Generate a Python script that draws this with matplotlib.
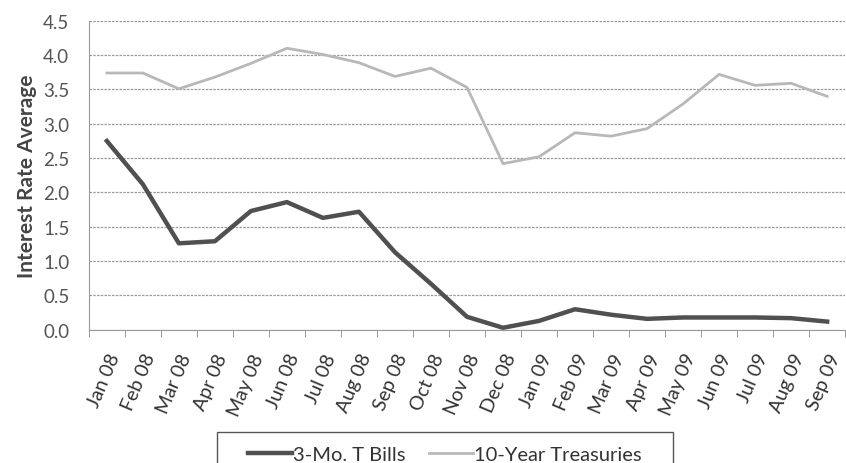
import matplotlib
matplotlib.use("Agg")
import matplotlib.pyplot as plt
from matplotlib.patches import Rectangle
import numpy as np

months = ["Jan 08", "Feb 08", "Mar 08", "Apr 08", "May 08", "Jun 08", "Jul 08",
          "Aug 08", "Sep 08", "Oct 08", "Nov 08", "Dec 08", "Jan 09", "Feb 09",
          "Mar 09", "Apr 09", "May 09", "Jun 09", "Jul 09", "Aug 09", "Sep 09"]
tbills = [2.75, 2.12, 1.26, 1.29, 1.73, 1.86, 1.63, 1.72, 1.13, 0.67, 0.19,
          0.03, 0.13, 0.30, 0.22, 0.16, 0.18, 0.18, 0.18, 0.17, 0.12]
treasuries = [3.74, 3.74, 3.51, 3.68, 3.88, 4.10, 4.01, 3.89, 3.69, 3.81, 3.53,
              2.42, 2.52, 2.87, 2.82, 2.93, 3.29, 3.72, 3.56, 3.59, 3.40]
yticks = [0.0, 0.5, 1.0, 1.5, 2.0, 2.5, 3.0, 3.5, 4.0, 4.5]

plt.rcParams['font.family'] = ['Lato', 'DejaVu Sans']

W, H = 846, 464
fig = plt.figure(figsize=(W / 100, H / 100), dpi=100)
ax = fig.add_axes([0.105, 0.287, 0.894, 0.666])

x = np.arange(len(months))
ax.plot(x, tbills, color='#505050', lw=3.2, label='3-Mo. T Bills', solid_joinstyle='round')
ax.plot(x, treasuries, color='#b8b8b8', lw=2.0, label='10-Year Treasuries')

ax.set_xlim(-0.5, len(months) - 0.5)
ax.set_ylim(0, 4.5)
ax.set_yticks(yticks)
ax.set_yticklabels([f"{v:.1f}" for v in yticks], fontsize=13.5, color='#555555')
ax.set_xticks(x)
ax.set_xticklabels(months, rotation=67, ha='right', rotation_mode='anchor',
                   fontsize=14, color='#333333')
ax.set_xticks(np.arange(-0.5, len(months)), minor=True)
ax.tick_params(axis='x', which='major', length=0, pad=15)
ax.tick_params(axis='x', which='minor', length=5, color='#888888')
ax.tick_params(axis='y', length=0, pad=14)

ax.grid(axis='y', color='#9a9a9a', lw=0.9, linestyle=(0, (2, 1)))
ax.set_axisbelow(True)
for s in ['top', 'right']:
    ax.spines[s].set_visible(False)
ax.spines['left'].set_color('#999999')
ax.spines['bottom'].set_color('#999999')

ax.set_ylabel('Interest Rate Average', fontsize=15, fontweight='bold', color='#444444', labelpad=4)

# legend frame
fig.add_artist(Rectangle((217 / W, -0.05), (673 - 217) / W, 0.05 + (H - 433) / H,
                         transform=fig.transFigure, fill=False, edgecolor='#555555',
                         lw=1.0))
leg = fig.legend(loc='center left', bbox_to_anchor=(248 / W, 1 - 455 / H), ncol=2,
                 frameon=False, fontsize=14.5, handlelength=2.2, handletextpad=0.05,
                 columnspacing=1.15, borderpad=0, borderaxespad=0)
for t in leg.get_texts():
    t.set_color('#333333')

fig.savefig('out.png', dpi=100)
